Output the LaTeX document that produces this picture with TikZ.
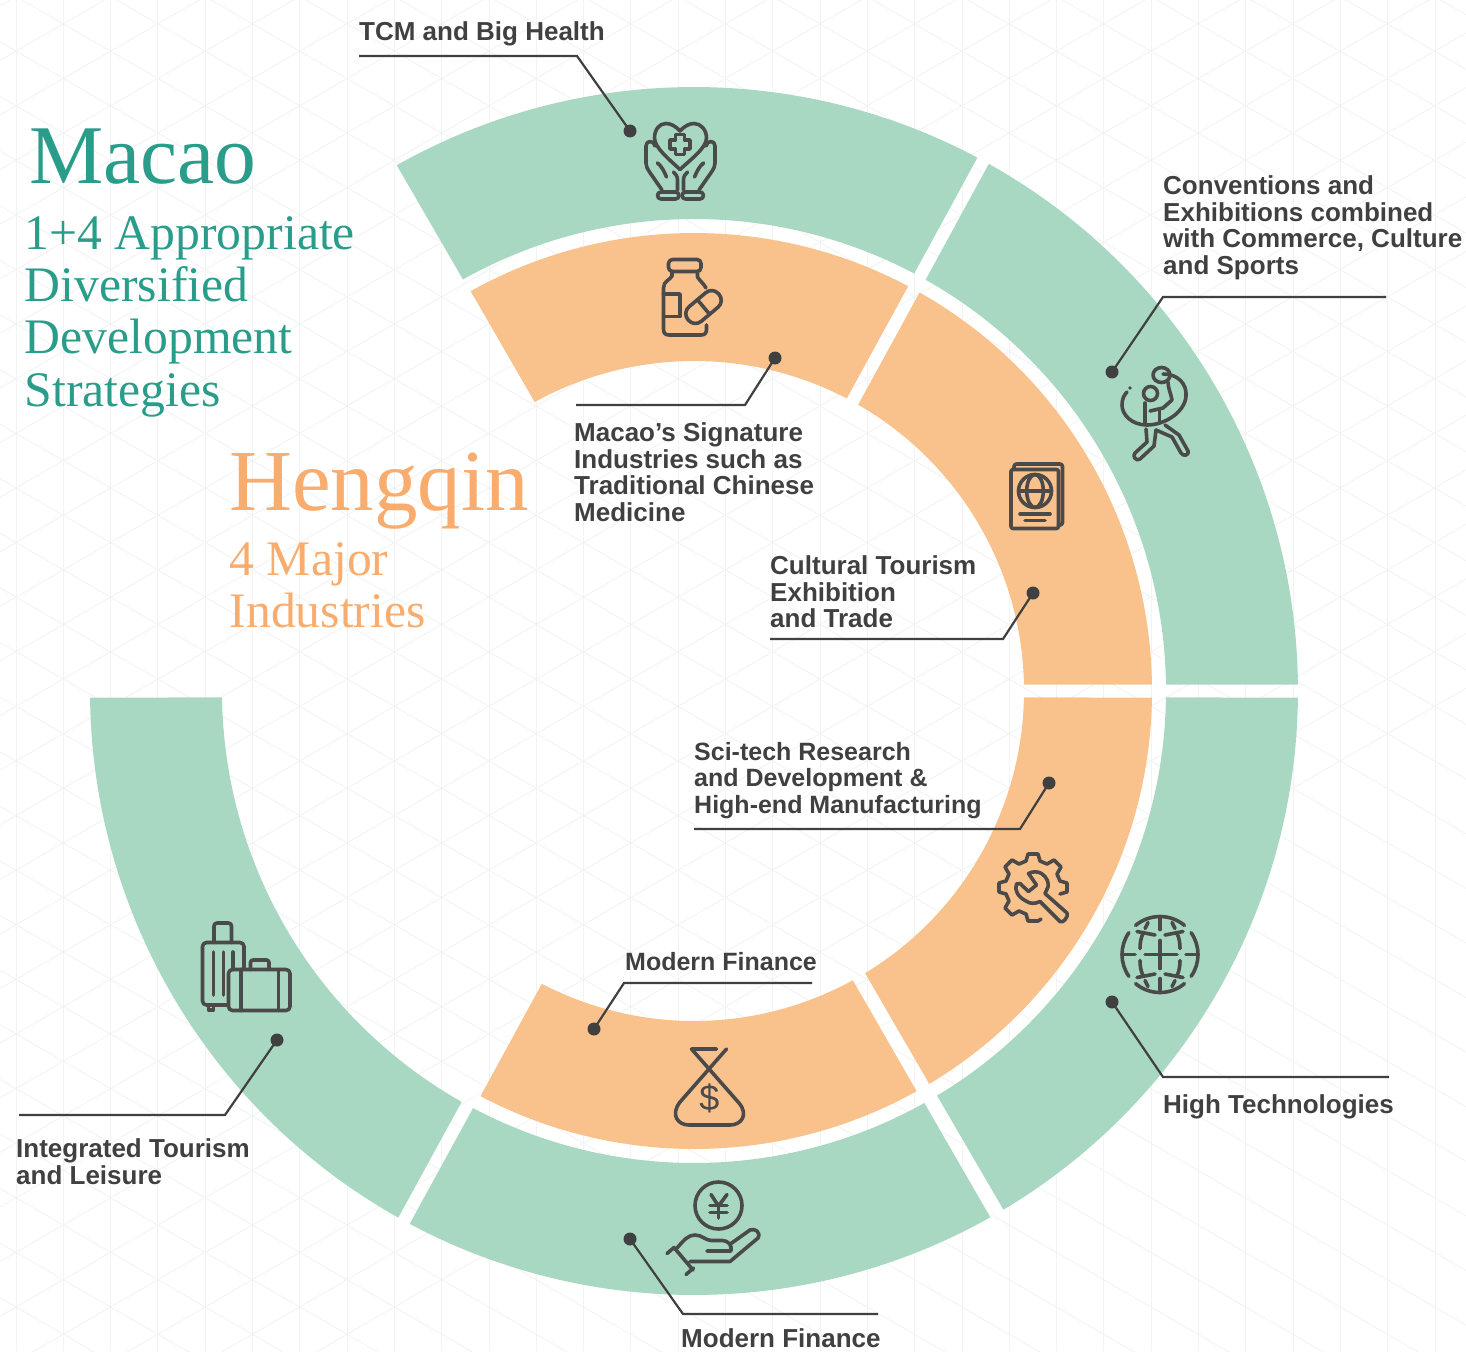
\documentclass[tikz,border=0pt]{standalone}
\usepackage{fontspec}
\setmainfont{Liberation Serif}
\newfontfamily\tagfont{Liberation Sans}[Scale=1]
\usetikzlibrary{positioning}

\definecolor{ringgreen}{HTML}{A9D8C2}
\definecolor{ringorange}{HTML}{F9C28C}
\definecolor{inkdark}{HTML}{404040}
\definecolor{iconink}{HTML}{4A4A4A}
\definecolor{macaoteal}{HTML}{2A9D8A}
\definecolor{hengqinorange}{HTML}{F8AC6E}
\definecolor{gridgrey}{HTML}{F2F4F3}

\tikzset{
  leader/.style={draw=inkdark, line width=2.2pt},
  dotnode/.style={circle, fill=inkdark, inner sep=0pt, minimum size=13pt},
  tagtext/.style={anchor=north west, inner sep=0pt, align=left, text=inkdark, font=\tagfont\bfseries\fontsize{26}{26.6}\selectfont},
  tagsmall/.style={tagtext, font=\tagfont\bfseries\fontsize{25}{26.6}\selectfont},
  bigtitle/.style={anchor=base west, inner sep=0pt, font=\fontsize{#1}{#1}\selectfont},
  subtitle/.style={anchor=north west, inner sep=0pt, align=left, font=\fontsize{49.7}{52.3}\selectfont},
  icon/.style={draw=iconink, line width=3.6pt, line join=round, line cap=round},
}

\begin{document}
\begin{tikzpicture}[x=1pt, y=1pt]

    \useasboundingbox (0,0) rectangle (1466,-1351);

    % Background grid
    \begin{scope}
    \clip (0,0) rectangle (1466,-1351);
    \foreach \k in {0,...,30}
      \draw[gridgrey, line width=1pt] ({16+47.3*\k},0) -- ({16+47.3*\k},-1351);
    \foreach \k in {-17,...,25} {
      \draw[gridgrey, line width=1pt] (0,{-(96.5+54.6*\k)}) -- (1466,{-(942.9+54.6*\k)});
      \draw[gridgrey, line width=1pt] (0,{-(169.6+54.6*\k)}) -- (1466,{-(169.6-846.4+54.6*\k)});
    }
    \end{scope}

    % Outer ring (Macao)
    \begin{scope}[shift={(694,-691)}]
    \foreach \a/\b in {61.4/120.1, 0/61.4, -59.8/0, 241.3/300, 180/241.3}
      \fill[ringgreen] ({\a+asin(6.5/604)}:604) arc[start angle={\a+asin(6.5/604)}, end angle={\b-asin(6.5/604)}, radius=604]
        -- ({\b-asin(6.5/472)}:472) arc[start angle={\b-asin(6.5/472)}, end angle={\a+asin(6.5/472)}, radius=472] -- cycle;

    % Inner ring (Hengqin)
    \foreach \a/\b in {61.3/120, 0/61.3, -59.9/0, 241.4/299.9}
      \fill[ringorange] ({\a+asin(6.5/458)}:458) arc[start angle={\a+asin(6.5/458)}, end angle={\b-asin(6.5/458)}, radius=458]
        -- ({\b-asin(6.5/330)}:330) arc[start angle={\b-asin(6.5/330)}, end angle={\a+asin(6.5/330)}, radius=330] -- cycle;
    \end{scope}

    % Titles
    \node[bigtitle=83.5, text=macaoteal] (macao) at (29,-183) {Macao};
    \node[subtitle, text=macaoteal] (macaosub) at (24.5,-216) {1+4 Appropriate\\Diversified\\Development\\Strategies};
    \node[bigtitle=87, text=hengqinorange] (hengqin) at (229,-510) {Hengqin};
    \node[subtitle, text=hengqinorange] (hengqinsub) at (229.5,-542) {4 Major\\Industries};

    % Labels
    \node[tagtext] (tcm) at (359,-21.5) {TCM and Big Health};
    \node[tagtext] (conv) at (1163,-175.5) {Conventions and\\Exhibitions combined\\with Commerce, Culture\\and Sports};
    \node[tagtext] (sign) at (574,-422.5) {Macao’s Signature\\Industries such as\\Traditional Chinese\\Medicine};
    \node[tagtext] (cult) at (770,-555.5) {Cultural Tourism\\Exhibition\\and Trade};
    \node[tagsmall] (scit) at (694,-742) {Sci-tech Research\\and Development \&\\High-end Manufacturing};
    \node[tagsmall] (finin) at (625,-952) {Modern Finance};
    \node[tagtext] (high) at (1163,-1094.5) {High Technologies};
    \node[tagtext] (finout) at (681,-1328.5) {Modern Finance};
    \node[tagtext] (integ) at (16,-1138.5) {Integrated Tourism\\and Leisure};

    % Leader dots
    \node[dotnode] (tcmdot) at (630,-131) {};
    \node[dotnode] (convdot) at (1112,-372) {};
    \node[dotnode] (signdot) at (775,-358) {};
    \node[dotnode] (cultdot) at (1033,-593) {};
    \node[dotnode] (scitdot) at (1049,-783) {};
    \node[dotnode] (finindot) at (594,-1029) {};
    \node[dotnode] (highdot) at (1112,-1002) {};
    \node[dotnode] (finoutdot) at (630,-1239) {};
    \node[dotnode] (integdot) at (277,-1040) {};

    % Leader lines
    \coordinate (tcmend) at (359,-56);
    \coordinate (tcmbend) at (577,-56);
    \draw[leader] (tcmend) -- (tcmbend) -- (tcmdot.center);
    \coordinate (convend) at (1386,-297);
    \coordinate (convbend) at (1163,-297);
    \draw[leader] (convend) -- (convbend) -- (convdot.center);
    \coordinate (signend) at (576,-405);
    \coordinate (signbend) at (745,-405);
    \draw[leader] (signend) -- (signbend) -- (signdot.center);
    \coordinate (cultend) at (770,-639);
    \coordinate (cultbend) at (1003,-639);
    \draw[leader] (cultend) -- (cultbend) -- (cultdot.center);
    \coordinate (scitend) at (694,-829);
    \coordinate (scitbend) at (1020,-829);
    \draw[leader] (scitend) -- (scitbend) -- (scitdot.center);
    \coordinate (fininend) at (812,-983);
    \coordinate (fininbend) at (624,-983);
    \draw[leader] (fininend) -- (fininbend) -- (finindot.center);
    \coordinate (highend) at (1389,-1077);
    \coordinate (highbend) at (1163,-1077);
    \draw[leader] (highend) -- (highbend) -- (highdot.center);
    \coordinate (finoutend) at (878,-1314);
    \coordinate (finoutbend) at (683,-1314);
    \draw[leader] (finoutend) -- (finoutbend) -- (finoutdot.center);
    \coordinate (integend) at (19,-1115);
    \coordinate (integbend) at (225,-1115);
    \draw[leader] (integend) -- (integbend) -- (integdot.center);

    % Icon: hands and heart
    \draw[icon] (680,-131) .. controls (675,-125.5) and (670,-123.5) .. (666,-123.5) .. controls (659,-123.5) and (654.5,-130) .. (654.5,-138) .. controls (654.5,-148) and (670,-160) .. (680,-169.5) .. controls (690,-160) and (706.5,-148) .. (706.5,-138) .. controls (706.5,-130) and (701,-123.5) .. (694,-123.5) .. controls (690,-123.5) and (685,-125.5) .. (680,-131) -- cycle;
    \draw[icon] (675.5,-134.5) -- (684.5,-134.5) -- (684.5,-140) -- (690,-140) -- (690,-149) -- (684.5,-149) -- (684.5,-154.5) -- (675.5,-154.5) -- (675.5,-149) -- (670,-149) -- (670,-140) -- (675.5,-140) -- cycle;
    \foreach \m in {1,-1} {
      \begin{scope}[shift={(680.5,0)}, xscale=\m]
      \draw[icon] (-18.5,-190) -- (-31,-172) .. controls (-33.5,-168) and (-34.5,-166) .. (-34.5,-163) -- (-34.5,-146) .. controls (-34.5,-143) and (-32.5,-141.5) .. (-30.5,-141.5) .. controls (-28,-141.5) and (-26,-143) .. (-25.5,-146);
      \draw[icon] (-23,-163) .. controls (-19,-166) and (-16,-172) .. (-14,-177);
      \draw[icon] (-3,-190) -- (-3,-180) .. controls (-3,-176) and (-5,-174) .. (-7,-172);
      \draw[icon, rounded corners=3.5pt] (-23,-192) rectangle (-1.5,-199);
      \end{scope}
    }

    % Icon: pill bottle
    \draw[icon, rounded corners=4pt] (668.5,-259.5) rectangle (701,-271.5);
    \draw[icon] (672,-271.5) -- (672,-276) .. controls (670,-280) and (663.5,-281) .. (663.5,-288) -- (663.5,-329) .. controls (663.5,-333) and (665,-335) .. (669,-335) -- (701,-335) .. controls (705,-335) and (706.5,-333) .. (706.5,-329) -- (706.5,-325);
    \draw[icon] (697.5,-271.5) -- (697.5,-277) .. controls (700,-281) and (704,-284) .. (706,-288);
    \draw[icon] (663.5,-294) -- (680,-294) -- (680,-316.5) -- (663.5,-316.5);
    \begin{scope}[shift={(703.5,-307)}, rotate=40]
    \draw[icon, rounded corners=9pt] (-20,-9.5) rectangle (20,9.5);
    \draw[icon] (0,-9.5) -- (0,9.5);
    \end{scope}

    % Icon: passport
    \draw[icon, rounded corners=2pt] (1011,-469.5) rectangle (1058.5,-528.5);
    \draw[icon, rounded corners=2.5pt] (1014,-469.5) -- (1014,-464) -- (1062.5,-464) -- (1062.5,-525) -- (1058.5,-525);
    \draw[icon] (1035,-491) circle[radius=16.5];
    \draw[icon] (1035,-491) ellipse[x radius=8.3, y radius=16.5];
    \draw[icon] (1018.5,-491) -- (1051.5,-491);
    \draw[icon] (1020,-514) -- (1050,-514);
    \draw[icon] (1025,-520.5) -- (1045,-520.5);

    % Icon: athlete with ribbon
    \draw[icon] (1161.5,-375) ellipse[x radius=8.5, y radius=7.5];
    \draw[icon] (1150.5,-393.5) circle[radius=7];
    \draw[icon] (1163,-374) .. controls (1178,-374) and (1187,-384) .. (1186,-396) .. controls (1185,-412) and (1165,-425) .. (1147,-425) .. controls (1132,-425) and (1122,-415) .. (1122,-405) .. controls (1122,-399) and (1124,-395) .. (1127,-392);
    \fill[iconink] (1130,-388) circle[radius=1.8];
    \draw[icon] (1145,-403) -- (1145,-423);
    \draw[icon] (1168,-382) .. controls (1168,-388) and (1171,-394) .. (1172,-400) -- (1163,-408) -- (1150,-411);
    \draw[icon] (1159.5,-410) -- (1159.5,-422);
    \draw[icon] (1146,-429) -- (1147,-442) -- (1135,-453) .. controls (1132,-456) and (1136,-462) .. (1140,-459) -- (1154,-446) -- (1156,-430) -- (1172,-437) -- (1181,-453) .. controls (1183,-457) and (1190,-455) .. (1188,-451) -- (1179,-435) -- (1165,-425);

    % Icon: gear and wrench
    \draw[icon] (1041,-919) -- (1038,-921) -- (1028,-921) -- (1026,-914) -- (1019,-911) -- (1012,-915) -- (1005,-908) -- (1009,-901) -- (1006,-894) -- (999,-892) -- (999,-883) -- (1006,-881) -- (1009,-874) -- (1005,-867) -- (1012,-860) -- (1019,-864) -- (1026,-861) -- (1028,-854) -- (1038,-854) -- (1040,-861) -- (1047,-864) -- (1054,-860) -- (1061,-867) -- (1057,-874) -- (1060,-881) -- (1067,-883) -- (1067,-892) -- (1060,-894);
    \draw[icon, line join=round] (1028.5,-873.5) .. controls (1033,-871) and (1038,-871.5) .. (1041.5,-873.5) .. controls (1047,-877) and (1049,-883) .. (1048,-887) -- (1045,-893.5) -- (1067,-913) .. controls (1069,-916) and (1063,-924) .. (1060,-921.5) -- (1040,-901.5) .. controls (1035,-904) and (1030,-904) .. (1026,-901) .. controls (1018,-897) and (1014,-890) .. (1016.5,-884) -- (1020,-883.5) -- (1028.5,-891.5) -- (1036.5,-885) -- cycle;

    % Icon: globe
    \begin{scope}[shift={(1160,-954.5)}]
    \foreach \s/\e in {145/215, -35/35, 50/130, 230/310}
      \draw[icon] (\s:38) arc[start angle=\s, end angle=\e, radius=38];
    \draw[icon] (-37,0) -- (-25,0);
    \draw[icon] (-15,0) -- (17,0);
    \draw[icon] (26,0) -- (38,0);
    \draw[icon] (0,36) -- (0,25);
    \draw[icon] (0,14) -- (0,-14);
    \draw[icon] (0,-24) -- (0,-38);
    \foreach \m in {1,-1} {
      \begin{scope}[xscale=\m]
      \draw[icon] (-23,23) -- (-5,19.5);
      \draw[icon] (-23,-23) -- (-5,-19.5);
      \draw[icon] (-20,6) .. controls (-20,12) and (-19,17) .. (-17,21);
      \draw[icon] (-20,-6) .. controls (-20,-12) and (-19,-17) .. (-17,-21);
      \draw[icon] (-15,26) -- (-12,32);
      \draw[icon] (-15,-26) -- (-12,-32);
      \end{scope}
    }
    \end{scope}

    % Icon: money bag
    \draw[icon] (716.5,-1049) -- (691.5,-1049) -- (739,-1103) .. controls (749,-1115) and (741,-1125) .. (730,-1125) -- (689,-1125) .. controls (678,-1125) and (670,-1115) .. (680,-1102) -- (726.5,-1049);
    \node[text=iconink, inner sep=0pt, font=\tagfont\fontsize{36}{36}\selectfont] (dollar) at (709.5,-1098) {\$};

    % Icon: hand and yen coin
    \draw[icon] (718.5,-1205.5) circle[radius=23.5];
    \draw[icon] (711,-1194.5) -- (718.5,-1206) -- (727,-1194.5);
    \draw[icon] (718.5,-1206) -- (718.5,-1218);
    \draw[icon] (710,-1205.5) -- (727,-1205.5);
    \draw[icon] (710,-1212.5) -- (727,-1212.5);
    \draw[icon] (677,-1248) .. controls (684,-1240) and (688,-1235) .. (695,-1235) .. controls (702,-1235) and (705,-1240) .. (711,-1240.5) -- (722,-1240.5) .. controls (729,-1241) and (732,-1245) .. (731,-1251) -- (707,-1251);
    \draw[icon] (731,-1243.5) -- (750,-1230) .. controls (755,-1228) and (761,-1232) .. (758,-1238) -- (730,-1261.5) -- (690,-1261.5);
    \draw[icon] (667,-1253.5) -- (674,-1247.5) -- (693,-1270);
    \draw[icon] (686,-1274.5) -- (693.5,-1268);

    % Icon: luggage
    \draw[icon, rounded corners=3pt] (214,-942.5) -- (214,-923) -- (231.5,-923) -- (231.5,-942.5);
    \draw[icon, rounded corners=4pt] (244,-969.5) -- (244,-942.5) -- (202.5,-942.5) -- (202.5,-1005) -- (228.5,-1005);
    \draw[icon] (213.5,-952) -- (213.5,-995);
    \draw[icon] (223.5,-952) -- (223.5,-995);
    \draw[icon] (233,-952) -- (233,-969.5);
    \draw[icon] (208.5,-1005) -- (208.5,-1010) -- (213.5,-1010) -- (213.5,-1005);
    \draw[icon, rounded corners=4pt] (228.5,-969.5) rectangle (290,-1010.5);
    \draw[icon] (241,-969.5) -- (241,-1010.5);
    \draw[icon] (278.5,-969.5) -- (278.5,-1010.5);
    \draw[icon, rounded corners=2.5pt] (250.5,-969.5) -- (250.5,-960) -- (269,-960) -- (269,-969.5);

  \end{tikzpicture}
\end{document}
